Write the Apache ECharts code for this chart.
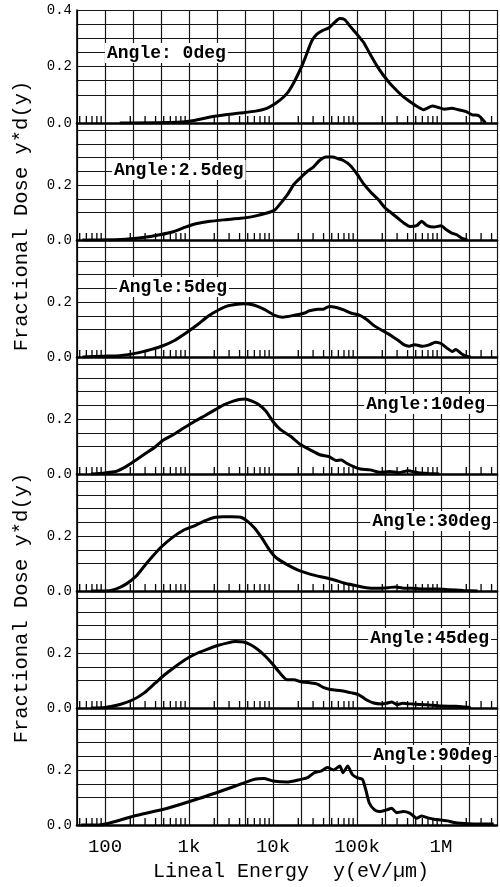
<!DOCTYPE html>
<html>
<head>
<meta charset="utf-8">
<script src="https://cdn.jsdelivr.net/npm/echarts@6/dist/echarts.min.js"></script>
<style>
html,body{margin:0;padding:0;background:#fff;}
#chart{width:500px;height:887px;}
</style>
</head>
<body>
<div id="chart"></div>
<script>
// ---------------- data (lineal energy in eV/um, fractional dose y*d(y)) ----------------
const angleLabels = ['Angle: 0deg', 'Angle:2.5deg', 'Angle:5deg', 'Angle:10deg', 'Angle:30deg', 'Angle:45deg', 'Angle:90deg'];

const angle0Energy = [150, 730, 1150, 1790, 2710, 3980, 6210, 8260, 10000, 12100, 14700, 17000, 19600, 22600, 25500, 29000, 33100, 39200, 46400, 53700, 62100, 71300, 82600, 100000, 120000, 143000, 172000, 206000, 247000, 295000, 355000, 424000, 509000, 621000, 681000, 788000, 912000, 1100000, 1340000, 1610000, 1960000, 2360000, 2820000, 3390000];
const angle0Dose = [0, 0.003, 0.009, 0.021, 0.029, 0.035, 0.042, 0.051, 0.064, 0.081, 0.105, 0.134, 0.169, 0.209, 0.249, 0.291, 0.314, 0.328, 0.337, 0.355, 0.37, 0.366, 0.343, 0.314, 0.285, 0.244, 0.203, 0.169, 0.14, 0.116, 0.093, 0.076, 0.06, 0.047, 0.052, 0.06, 0.056, 0.049, 0.052, 0.047, 0.041, 0.029, 0.026, 0];

const angle1Energy = [54, 154, 282, 447, 665, 906, 1210, 1780, 2750, 4100, 5890, 8650, 10500, 12500, 15000, 17900, 21500, 25500, 30200, 36000, 42700, 51300, 58900, 68100, 82500, 100000, 120000, 147000, 178000, 215000, 255000, 302000, 360000, 427000, 513000, 589000, 681000, 826000, 1000000, 1160000, 1340000, 1540000, 1780000, 2060000];
const angle1Dose = [0, 0.002, 0.009, 0.019, 0.031, 0.047, 0.059, 0.068, 0.074, 0.079, 0.086, 0.099, 0.109, 0.136, 0.167, 0.204, 0.228, 0.249, 0.265, 0.29, 0.302, 0.302, 0.296, 0.29, 0.272, 0.24, 0.204, 0.173, 0.148, 0.117, 0.099, 0.081, 0.062, 0.049, 0.052, 0.068, 0.052, 0.047, 0.052, 0.037, 0.025, 0.019, 0.006, 0];

const angle2Energy = [54, 95, 150, 244, 349, 490, 681, 948, 1270, 1700, 2240, 2820, 3550, 4470, 5890, 7880, 10500, 12900, 17500, 23300, 27100, 34100, 39800, 46400, 57100, 69700, 85800, 105000, 129000, 158000, 195000, 233000, 269000, 311000, 360000, 417000, 490000, 598000, 736000, 858000, 1000000, 1170000, 1360000, 1500000, 1750000, 2040000, 2250000];
const angle2Dose = [0, 0.003, 0.005, 0.015, 0.027, 0.041, 0.061, 0.09, 0.118, 0.149, 0.171, 0.185, 0.191, 0.194, 0.189, 0.173, 0.151, 0.145, 0.151, 0.159, 0.168, 0.174, 0.174, 0.184, 0.18, 0.171, 0.159, 0.153, 0.137, 0.115, 0.098, 0.085, 0.073, 0.06, 0.045, 0.039, 0.045, 0.039, 0.045, 0.054, 0.049, 0.033, 0.02, 0.027, 0.012, 0.002, 0];

const angle3Energy = [68, 100, 134, 178, 234, 309, 395, 486, 650, 865, 1160, 1540, 2060, 2630, 3360, 3950, 4640, 5620, 6810, 8260, 10000, 12100, 16200, 21500, 27700, 36000, 46400, 56200, 65000, 75300, 91200, 110000, 143000, 188000, 245000, 316000, 407000, 537000, 713000, 955000];
const angle3Dose = [0, 0.004, 0.009, 0.027, 0.051, 0.076, 0.098, 0.122, 0.143, 0.167, 0.191, 0.212, 0.234, 0.252, 0.265, 0.271, 0.273, 0.265, 0.252, 0.228, 0.191, 0.163, 0.137, 0.106, 0.088, 0.07, 0.063, 0.049, 0.051, 0.039, 0.027, 0.018, 0.015, 0.006, 0.009, 0.005, 0.012, 0.005, 0.002, 0];

const angle4Energy = [68, 100, 134, 178, 233, 293, 369, 464, 631, 858, 1160, 1540, 2060, 2610, 3290, 4140, 4900, 5980, 7360, 9050, 11000, 14700, 19600, 25300, 32400, 41000, 53700, 71300, 95500, 129000, 175000, 233000, 288000, 360000, 447000, 665000, 905000, 1230000, 1850000, 2730000];
const angle4Dose = [0, 0, 0.007, 0.025, 0.053, 0.09, 0.126, 0.159, 0.194, 0.221, 0.237, 0.255, 0.268, 0.27, 0.27, 0.268, 0.255, 0.23, 0.193, 0.15, 0.12, 0.096, 0.077, 0.065, 0.056, 0.049, 0.04, 0.028, 0.02, 0.012, 0.01, 0.012, 0.015, 0.01, 0.01, 0.007, 0.007, 0.005, 0.002, 0];

const angle5Energy = [68, 100, 147, 215, 293, 398, 513, 697, 948, 1270, 1700, 2240, 2820, 3550, 4470, 5410, 6650, 8130, 10000, 12100, 14700, 17800, 21500, 28600, 33700, 39500, 48600, 65000, 86500, 105000, 129000, 158000, 195000, 224000, 259000, 300000, 347000, 430000, 665000, 1000000, 1500000, 2250000];
const angle5Dose = [0, 0.002, 0.012, 0.03, 0.055, 0.091, 0.121, 0.152, 0.18, 0.2, 0.215, 0.228, 0.236, 0.242, 0.24, 0.23, 0.212, 0.188, 0.158, 0.127, 0.103, 0.103, 0.095, 0.091, 0.087, 0.075, 0.067, 0.063, 0.055, 0.048, 0.03, 0.018, 0.015, 0.017, 0.022, 0.012, 0.017, 0.015, 0.012, 0.007, 0.006, 0.002];

const angle6Energy = [52, 85, 222, 554, 1370, 3520, 5980, 7760, 10000, 14700, 21500, 25900, 30900, 37200, 44400, 52800, 62600, 68100, 77600, 87800, 100000, 116000, 127000, 140000, 162000, 186000, 226000, 259000, 295000, 355000, 424000, 513000, 589000, 713000, 826000, 1000000, 1200000, 1430000, 1730000, 2470000, 4240000];
const angle6Dose = [0, 0, 0.033, 0.061, 0.098, 0.141, 0.166, 0.169, 0.16, 0.156, 0.166, 0.172, 0.19, 0.196, 0.209, 0.2, 0.215, 0.19, 0.215, 0.184, 0.172, 0.166, 0.129, 0.08, 0.055, 0.049, 0.055, 0.061, 0.045, 0.049, 0.043, 0.025, 0.033, 0.025, 0.021, 0.018, 0.015, 0.009, 0.006, 0.004, 0.004];

const xTickValues = [100, 1000, 10000, 100000, 1000000];
const xTickLabels = ['100', '1k', '10k', '100k', '1M'];
const yTickValuesTop = [0, 0.2, 0.4];
const yTickValues = [0, 0.2];
const minorMultipliers = [2, 3, 4, 5, 6, 7, 8, 9];
const decades = [10, 100, 1000, 10000, 100000, 1000000, 10000000];

// ---------------- layout ----------------
const FONT = '"Liberation Mono", "DejaVu Sans Mono", monospace';
const X_MIN = 5, X_MAX = 20;          // axis in thirds of a decade (3*log10 y)
const GRID_LEFT = 77, PX_PER_THIRD = 28;
const ZERO0 = 123, STEP = 117, PX_PER_UNIT = 275, TOP0 = 10;
const labelSide = ['left', 'left', 'left', 'right', 'right', 'right', 'right'];
const labelAnchorX = [105, 112, 117, 487, 493, 491, 494];
const yTitleCenters = [216, 608];

const toThirds = e => 3 * Math.log10(e);
const panels = [
  [angle0Energy, angle0Dose], [angle1Energy, angle1Dose], [angle2Energy, angle2Dose],
  [angle3Energy, angle3Dose], [angle4Energy, angle4Dose], [angle5Energy, angle5Dose],
  [angle6Energy, angle6Dose]
];

const minorTicks = [];
decades.forEach(d => minorMultipliers.forEach(m => {
  const t = toThirds(d * m);
  if (t > X_MIN + 1e-6 && t < X_MAX - 1e-6) minorTicks.push([t, 0]);
}));

const LINE = '#161616';
const splitColors = [LINE, 'rgba(0,0,0,0)', LINE, LINE, LINE, LINE, LINE, LINE, LINE, LINE];
const near = (a, b) => Math.abs(a - b) < 1e-6;

const grids = [], xAxes = [], yAxes = [], series = [], graphics = [];
const gridWidth = (X_MAX - X_MIN) * PX_PER_THIRD;

panels.forEach((p, i) => {
  const zero = ZERO0 + i * STEP;
  const yMax = i === 0 ? 0.4 : 0.425;
  const height = i === 0 ? zero - TOP0 : yMax * PX_PER_UNIT;
  const yLabs = i === 0 ? yTickValuesTop : yTickValues;
  grids.push({ left: GRID_LEFT, top: zero - height, width: gridWidth, height: height,
               containLabel: false, outerBoundsMode: 'none' });
  xAxes.push({
    type: 'value', gridIndex: i, min: X_MIN, max: X_MAX, interval: 1,
    axisLine: { show: true, onZero: false, lineStyle: { color: '#000', width: 2.6 } },
    axisTick: { show: false },
    splitLine: { show: true, lineStyle: { color: LINE, width: 1.2 } },
    axisLabel: {
      show: i === panels.length - 1, margin: 12, color: '#000',
      fontFamily: FONT, fontSize: 19,
      formatter: v => {
        const k = xTickValues.findIndex(e => near(toThirds(e), v));
        return k >= 0 ? xTickLabels[k] : '';
      }
    }
  });
  yAxes.push({
    type: 'value', gridIndex: i, min: 0, max: yMax, interval: 0.05,
    axisLine: { show: true, lineStyle: { color: '#000', width: 1.6 } },
    axisTick: { show: false },
    splitLine: { show: true, lineStyle: { color: splitColors, width: 1.2 } },
    axisLabel: {
      margin: 5, color: '#000', fontFamily: FONT, fontSize: 14,
      formatter: v => yLabs.some(t => near(t, v)) ? v.toFixed(1) : ''
    }
  });
  series.push({
    type: 'line', xAxisIndex: i, yAxisIndex: i,
    data: p[0].map((e, k) => [toThirds(e), p[1][k]]),
    symbol: 'none', smooth: 0.2, z: 4,
    lineStyle: { color: '#000', width: 3 }
  });
  series.push({
    type: 'custom', xAxisIndex: i, yAxisIndex: i, data: minorTicks, silent: true, z: 3,
    renderItem: (params, api) => {
      const pt = api.coord([api.value(0), 0]);
      return { type: 'line', shape: { x1: pt[0], y1: pt[1], x2: pt[0], y2: pt[1] - 7 },
               style: { stroke: '#000', lineWidth: 1.3 } };
    }
  });
  graphics.push({
    type: 'text', x: labelAnchorX[i], y: zero - 70, z: 100,
    style: {
      text: angleLabels[i], font: 'bold 18px ' + FONT, fill: '#000',
      align: labelSide[i], verticalAlign: 'middle',
      backgroundColor: '#fff', padding: [1, 2, 1, 2]
    }
  });
});

yTitleCenters.forEach(cy => {
  graphics.push({
    type: 'text', x: 22, y: cy, rotation: Math.PI / 2, z: 100,
    style: { text: 'Fractional Dose y*d(y)', font: '20.5px ' + FONT, fill: '#000', align: 'center', verticalAlign: 'middle' }
  });
});
graphics.push({
  type: 'text', x: 291, y: 872, z: 100,
  style: { text: 'Lineal Energy  y(eV/\u00b5m)', font: '20px ' + FONT, fill: '#000', align: 'center', verticalAlign: 'middle' }
});

const chart = echarts.init(document.getElementById('chart'), null, { renderer: 'canvas' });
chart.setOption({
  animation: false,
  backgroundColor: '#fff',
  grid: grids, xAxis: xAxes, yAxis: yAxes, series: series, graphic: graphics
});
</script>
</body>
</html>
